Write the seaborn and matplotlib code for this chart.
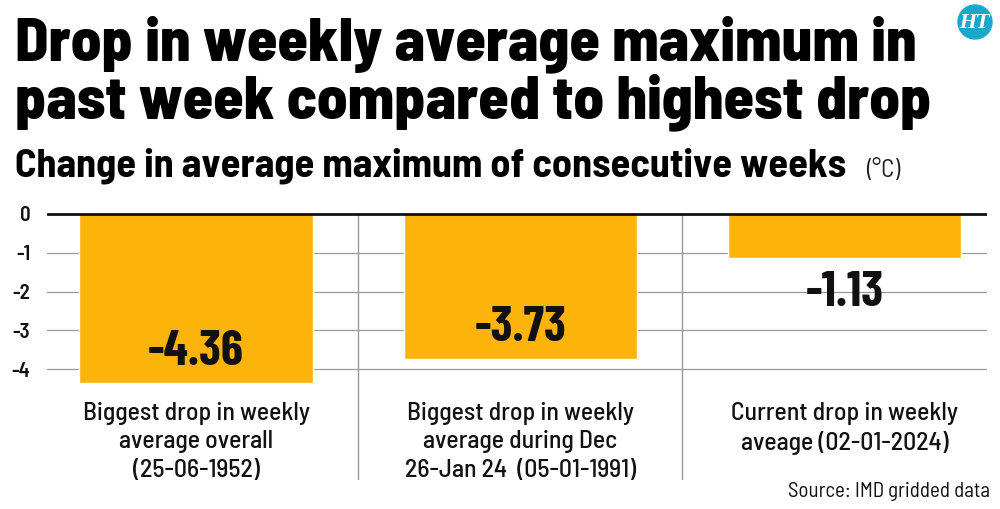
import matplotlib
matplotlib.use('Agg')
import matplotlib.pyplot as plt
import seaborn as sns
import pandas as pd
from matplotlib.patches import Ellipse

# Datos
categorias = ['overall', 'dec_jan', 'current']
valores = [-4.36, -3.73, -1.13]
etiquetas_valor = ['-4.36', '-3.73', '-1.13']
etiquetas_cat = ['Biggest drop in weekly\naverage overall\n(25-06-1952)',
                 'Biggest drop in weekly\naverage during Dec\n26-Jan 24  (05-01-1991)',
                 'Current drop in weekly\naveage (02-01-2024)']
yticks = [0, -1, -2, -3, -4]

df = pd.DataFrame({'cat': categorias, 'valor': valores})

sns.set_style('white')
# Fuentes condensadas (con DejaVu de respaldo)
cond = ['Barlow Condensed', 'DejaVu Sans']
semi = ['Barlow Semi Condensed', 'DejaVu Sans']
plt.rcParams['font.family'] = semi

fig = plt.figure(figsize=(10, 5.09), dpi=100)
ax = fig.add_axes([0.047, 0.057, 0.94, 0.55])

naranja = '#FDB40A'
texto = '#111111'

sns.barplot(data=df, x='cat', y='valor', color=naranja, width=0.72,
            saturation=1, ax=ax, zorder=3)

ax.set_xlim(-0.46, 2.44)
ax.set_ylim(-6.86, 0.36)
ax.set_yticks(yticks)
ax.set_yticklabels([str(t) for t in yticks], fontsize=15, color=texto,
                   fontweight=600, family=semi)
ax.tick_params(axis='y', length=0, pad=12)
ax.set_xticks([])
ax.set_xlabel('')
ax.set_ylabel('')
for s in ax.spines.values():
    s.set_visible(False)

# Rejilla
for t in yticks[1:]:
    ax.axhline(t, color='#9a9a9a', lw=0.9, zorder=1)
ax.axhline(0, color='#111111', lw=2, zorder=4)
ax.vlines([0.5, 1.5], -6.86, 0, color='#9a9a9a', lw=1, zorder=1)

# Valores: dentro de la barra si es larga, debajo si es corta
for i, v in enumerate(valores):
    if v < -2:
        y = v + 0.8
    else:
        y = v - 0.9
    ax.text(i, y, etiquetas_valor[i], ha='center', va='center', fontsize=36,
            fontweight=700, color=texto, zorder=5, family=cond)

# Etiquetas de categoria
for i, lab in enumerate(etiquetas_cat):
    ax.text(i, -4.85, lab, ha='center', va='top', fontsize=18.5, fontweight=500,
            color=texto, linespacing=1.3)

# Titulos
fig.text(0.015, 1 - 60 / 509, 'Drop in weekly average maximum in', ha='left',
         va='baseline', fontsize=44, fontweight=800, color='#000000', family=semi)
fig.text(0.015, 1 - 118 / 509, 'past week compared to highest drop', ha='left',
         va='baseline', fontsize=44, fontweight=800, color='#000000', family=semi)
fig.text(0.015, 1 - 177 / 509, 'Change in average maximum of consecutive weeks',
         ha='left', va='baseline', fontsize=29, fontweight=700, color='#000000')
fig.text(0.866, 1 - 177 / 509, '(°C)', ha='left', va='baseline', fontsize=18,
         fontweight=400, color='#222222')

fig.text(0.99, 1 - 497 / 509, 'Source: IMD gridded data', ha='right',
         va='baseline', fontsize=15, color=texto)

# Logo HT
logo = Ellipse((0.975, 1 - 22 / 509), 34 / 1000, 34 / 509,
               transform=fig.transFigure, color='#1AA7CC', zorder=10)
fig.patches.append(logo)
fig.text(0.975, 1 - 23 / 509, 'HT', ha='center', va='center', fontsize=13,
         fontweight='bold', style='italic', color='white', family='DejaVu Serif',
         zorder=11)

fig.savefig('out.png', dpi=100)
